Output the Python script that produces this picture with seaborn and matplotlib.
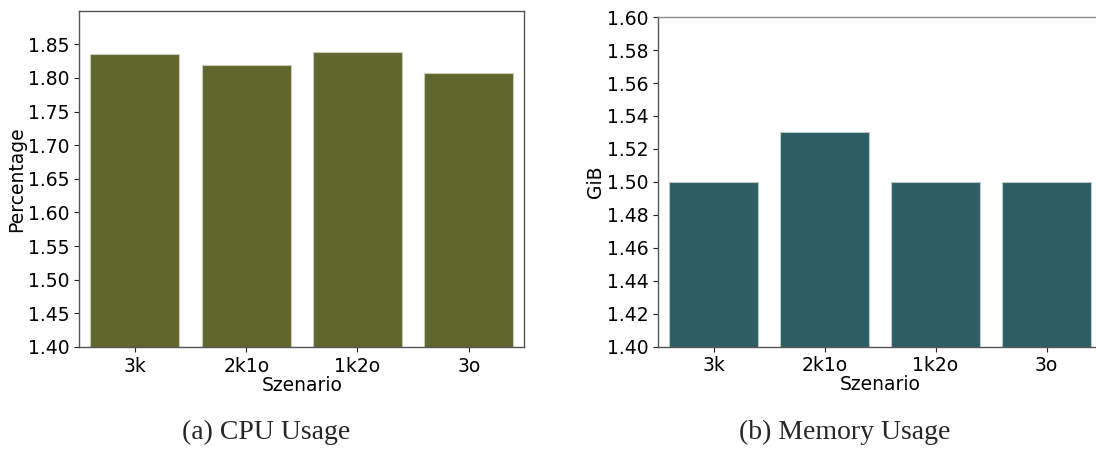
import matplotlib
matplotlib.use("Agg")
import matplotlib.pyplot as plt
import seaborn as sns
import pandas as pd

scenarios = ["3k", "2k1o", "1k2o", "3o"]
cpu_usage = [1.835, 1.819, 1.838, 1.808]
mem_usage = [1.50, 1.53, 1.50, 1.50]
cpu_ticks = [1.40, 1.45, 1.50, 1.55, 1.60, 1.65, 1.70, 1.75, 1.80, 1.85]
mem_ticks = [1.40, 1.42, 1.44, 1.46, 1.48, 1.50, 1.52, 1.54, 1.56, 1.58, 1.60]

sns.set_theme(style="ticks")
plt.rcParams['font.family'] = ['DejaVu Sans']

fig = plt.figure(figsize=(10.96, 4.49), dpi=100)
ax1 = fig.add_axes([0.0723, 0.2272, 0.4062, 0.749])
ax2 = fig.add_axes([0.6004, 0.2279, 0.4051, 0.734])

df_cpu = pd.DataFrame({"Szenario": scenarios, "Percentage": cpu_usage})
df_mem = pd.DataFrame({"Szenario": scenarios, "GiB": mem_usage})

sns.barplot(data=df_cpu, x="Szenario", y="Percentage", color="#61662e",
            saturation=1, width=0.8, edgecolor="#c9ccb8", linewidth=0.8, ax=ax1)
sns.barplot(data=df_mem, x="Szenario", y="GiB", color="#2d5e65",
            saturation=1, width=0.8, edgecolor="#b8c9cb", linewidth=0.8, ax=ax2)

ax1.set_ylim(1.40, 1.90)
ax1.set_yticks(cpu_ticks)
ax1.set_yticklabels([f"{t:.2f}" for t in cpu_ticks])
ax2.set_ylim(1.40, 1.60)
ax2.set_yticks(mem_ticks)
ax2.set_yticklabels([f"{t:.2f}" for t in mem_ticks])

for ax in (ax1, ax2):
    ax.set_xlim(-0.5, 3.5)
    ax.tick_params(axis="both", labelsize=13.5, colors="#222222", length=3.5, width=0.8)
    ax.tick_params(axis="both", labelcolor="black")
    ax.xaxis.label.set_size(13.5)
    ax.yaxis.label.set_size(13.5)
    ax.xaxis.label.set_color("black")
    ax.yaxis.label.set_color("black")
    ax.xaxis.labelpad = 0
    ax.yaxis.labelpad = 1
    for s in ax.spines.values():
        s.set_visible(True)
        s.set_linewidth(1.0)
        s.set_color("#555555")

ax2.spines["top"].set_color("#8a8a8a")
ax2.spines["right"].set_visible(False)

fig.text(0.2427, 0.036, "(a) CPU Usage", ha="center", va="center",
         fontsize=20, family=["Liberation Serif", "DejaVu Serif"])
fig.text(0.7705, 0.036, "(b) Memory Usage", ha="center", va="center",
         fontsize=20, family=["Liberation Serif", "DejaVu Serif"])

fig.savefig("out.png", dpi=100)
